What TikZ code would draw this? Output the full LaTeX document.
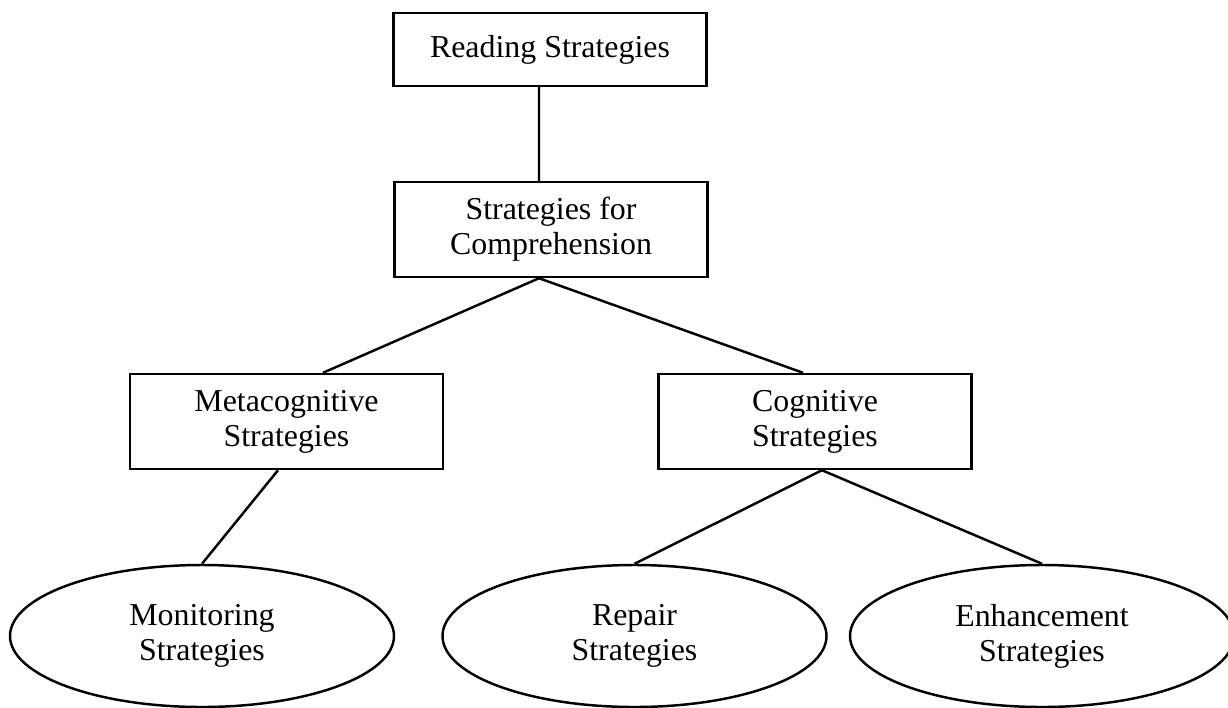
\documentclass[tikz,border=0pt]{standalone}
\usepackage{fontspec}
\setmainfont{Liberation Serif}
\usepackage{tikz}
\usetikzlibrary{
    calc,
    positioning,
    shapes.geometric
}

\begin{document}
\begin{tikzpicture}[
    font=\fontsize{9.07}{10}\selectfont,
    box/.style={
    	draw,
    	line width=0.7pt,
    	minimum width=3.13cm,
    	minimum height=0.95cm,
    	inner sep=2pt, align=center
    }, oval/.style={
    	draw, ellipse,
    	line width=0.7pt,
    	minimum width=3.84cm,
    	minimum height=1.42cm,
    	inner sep=0pt, align=center
    }, lin/.style={
    	line width=0.7pt
    }]
    \useasboundingbox (0,0) rectangle (12.28,7.07);

    \node[box, minimum height=0.73cm] (reading) at (5.50,6.575) {Reading Strategies};
    \node[box] (comprehension) at (5.51,4.775) {Strategies for\\Comprehension};

    %%% second level
    \node[box] (meta) at (2.865,2.855) {Metacognitive\\Strategies};
    \node[box] (cog) at (8.15,2.855) {Cognitive\\Strategies};

    %%% third level
    \node[oval] (monitoring) at (2.02,0.71) {Monitoring\\Strategies};
    \node[oval] (repair) at (6.345,0.71) {Repair\\Strategies};
    \node[oval] (enhancement) at (10.42,0.71) {Enhancement\\Strategies};

    %%% EDGES
    \draw[lin] ([xshift=-1.1mm]reading.south) -- ([xshift=-1.2mm]comprehension.north);

    \draw[lin] ([xshift=-1.2mm]comprehension.south) -- ([xshift=3.65mm]meta.north);
    \draw[lin] ([xshift=-1.2mm]comprehension.south) -- ([xshift=-1.2mm]cog.north);

    \draw[lin] ([xshift=-0.85mm]meta.south) -- (monitoring.north);

    \draw[lin] ([xshift=0.7mm]cog.south) -- (repair.north);
    \draw[lin] ([xshift=0.7mm]cog.south) -- (enhancement.north);
    %%% EDGES

\end{tikzpicture}
\end{document}
